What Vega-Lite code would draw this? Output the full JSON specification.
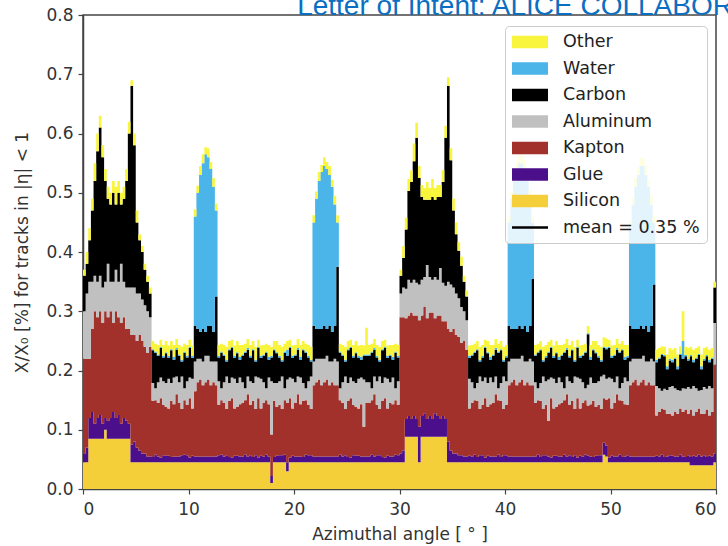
{
"$schema":"https://vega.github.io/schema/vega-lite/v6.json",
"width":633,"height":474,
"autosize":{"type":"none"},
"padding":{"left":83,"top":15,"right":12,"bottom":57},
"background":"white",
"datasets":{
"heading":[{"label":"Letter of Intent: ALICE COLLABORATION","phi":20.3,"level":0.8}],
"materials":[{"material":"Silicon","rank":1},{"material":"Glue","rank":2},{"material":"Kapton","rank":3},{"material":"Aluminum","rank":4},{"material":"Carbon","rank":5},{"material":"Water","rank":6},{"material":"Other","rank":7}],
"budget":[
{"phi":0,"Silicon":0.045,"Glue":0.015,"Kapton":0.16,"Aluminum":0.08,"Carbon":0.06,"Water":0,"Other":0.01},
{"phi":0.25,"Silicon":0.045,"Glue":0.025,"Kapton":0.15,"Aluminum":0.11,"Carbon":0.05,"Water":0,"Other":0.02},
{"phi":0.5,"Silicon":0.085,"Glue":0.035,"Kapton":0.10,"Aluminum":0.13,"Carbon":0.07,"Water":0,"Other":0.02},
{"phi":0.75,"Silicon":0.085,"Glue":0.045,"Kapton":0.14,"Aluminum":0.08,"Carbon":0.12,"Water":0,"Other":0.02},
{"phi":1.0,"Silicon":0.085,"Glue":0.025,"Kapton":0.19,"Aluminum":0.06,"Carbon":0.16,"Water":0,"Other":0.03},
{"phi":1.25,"Silicon":0.085,"Glue":0.035,"Kapton":0.17,"Aluminum":0.06,"Carbon":0.22,"Water":0,"Other":0.03},
{"phi":1.5,"Silicon":0.085,"Glue":0.04,"Kapton":0.175,"Aluminum":0.06,"Carbon":0.25,"Water":0,"Other":0.02},
{"phi":1.75,"Silicon":0.085,"Glue":0.025,"Kapton":0.17,"Aluminum":0.06,"Carbon":0.22,"Water":0,"Other":0.02},
{"phi":2.0,"Silicon":0.10,"Glue":0.02,"Kapton":0.18,"Aluminum":0.05,"Carbon":0.17,"Water":0,"Other":0.02},
{"phi":2.25,"Silicon":0.085,"Glue":0.03,"Kapton":0.175,"Aluminum":0.09,"Carbon":0.11,"Water":0,"Other":0.02},
{"phi":2.5,"Silicon":0.085,"Glue":0.035,"Kapton":0.18,"Aluminum":0.05,"Carbon":0.13,"Water":0,"Other":0.02},
{"phi":2.75,"Silicon":0.085,"Glue":0.045,"Kapton":0.15,"Aluminum":0.07,"Carbon":0.15,"Water":0,"Other":0.02},
{"phi":3.0,"Silicon":0.085,"Glue":0.035,"Kapton":0.18,"Aluminum":0.07,"Carbon":0.11,"Water":0,"Other":0.03},
{"phi":3.25,"Silicon":0.085,"Glue":0.04,"Kapton":0.165,"Aluminum":0.06,"Carbon":0.15,"Water":0,"Other":0.02},
{"phi":3.5,"Silicon":0.085,"Glue":0.025,"Kapton":0.17,"Aluminum":0.10,"Carbon":0.10,"Water":0,"Other":0.02},
{"phi":3.75,"Silicon":0.085,"Glue":0.035,"Kapton":0.17,"Aluminum":0.06,"Carbon":0.14,"Water":0,"Other":0.02},
{"phi":4.0,"Silicon":0.085,"Glue":0.03,"Kapton":0.155,"Aluminum":0.07,"Carbon":0.18,"Water":0,"Other":0.02},
{"phi":4.25,"Silicon":0.085,"Glue":0.025,"Kapton":0.16,"Aluminum":0.07,"Carbon":0.26,"Water":0,"Other":0.02},
{"phi":4.5,"Silicon":0.045,"Glue":0.03,"Kapton":0.185,"Aluminum":0.08,"Carbon":0.34,"Water":0,"Other":0.01},
{"phi":4.75,"Silicon":0.045,"Glue":0.035,"Kapton":0.18,"Aluminum":0.08,"Carbon":0.24,"Water":0,"Other":0.02},
{"phi":5.0,"Silicon":0.045,"Glue":0.025,"Kapton":0.18,"Aluminum":0.08,"Carbon":0.12,"Water":0,"Other":0.02},
{"phi":5.25,"Silicon":0.045,"Glue":0.02,"Kapton":0.195,"Aluminum":0.07,"Carbon":0.09,"Water":0,"Other":0.01},
{"phi":5.5,"Silicon":0.045,"Glue":0.015,"Kapton":0.19,"Aluminum":0.07,"Carbon":0.08,"Water":0,"Other":0.01},
{"phi":5.75,"Silicon":0.045,"Glue":0.015,"Kapton":0.18,"Aluminum":0.07,"Carbon":0.06,"Water":0,"Other":0.01},
{"phi":6.0,"Silicon":0.045,"Glue":0.01,"Kapton":0.175,"Aluminum":0.07,"Carbon":0.05,"Water":0,"Other":0.01},
{"phi":6.25,"Silicon":0.045,"Glue":0.01,"Kapton":0.185,"Aluminum":0.05,"Carbon":0.04,"Water":0,"Other":0.01},
{"phi":6.5,"Silicon":0.045,"Glue":0.009,"Kapton":0.095,"Aluminum":0.030,"Carbon":0.055,"Water":0.002,"Other":0.014},
{"phi":6.75,"Silicon":0.045,"Glue":0.013,"Kapton":0.092,"Aluminum":0.020,"Carbon":0.060,"Water":0.002,"Other":0.013},
{"phi":7.0,"Silicon":0.045,"Glue":0.010,"Kapton":0.090,"Aluminum":0.035,"Carbon":0.045,"Water":0.002,"Other":0.016},
{"phi":7.25,"Silicon":0.045,"Glue":0.008,"Kapton":0.100,"Aluminum":0.035,"Carbon":0.050,"Water":0.002,"Other":0.012},
{"phi":7.5,"Silicon":0.045,"Glue":0.012,"Kapton":0.085,"Aluminum":0.040,"Carbon":0.040,"Water":0.003,"Other":0.018},
{"phi":7.75,"Silicon":0.045,"Glue":0.011,"Kapton":0.083,"Aluminum":0.040,"Carbon":0.050,"Water":0.002,"Other":0.019},
{"phi":8.0,"Silicon":0.045,"Glue":0.011,"Kapton":0.080,"Aluminum":0.050,"Carbon":0.035,"Water":0.004,"Other":0.017},
{"phi":8.25,"Silicon":0.045,"Glue":0.009,"Kapton":0.095,"Aluminum":0.030,"Carbon":0.055,"Water":0.002,"Other":0.014},
{"phi":8.5,"Silicon":0.045,"Glue":0.010,"Kapton":0.088,"Aluminum":0.045,"Carbon":0.030,"Water":0.005,"Other":0.020},
{"phi":8.75,"Silicon":0.045,"Glue":0.010,"Kapton":0.105,"Aluminum":0.030,"Carbon":0.045,"Water":0.003,"Other":0.015},
{"phi":9.0,"Silicon":0.045,"Glue":0.010,"Kapton":0.090,"Aluminum":0.035,"Carbon":0.045,"Water":0.002,"Other":0.016},
{"phi":9.25,"Silicon":0.045,"Glue":0.012,"Kapton":0.078,"Aluminum":0.055,"Carbon":0.025,"Water":0.003,"Other":0.022},
{"phi":9.5,"Silicon":0.045,"Glue":0.013,"Kapton":0.092,"Aluminum":0.020,"Carbon":0.060,"Water":0.002,"Other":0.013},
{"phi":9.75,"Silicon":0.045,"Glue":0.012,"Kapton":0.085,"Aluminum":0.040,"Carbon":0.040,"Water":0.003,"Other":0.018},
{"phi":10.0,"Silicon":0.045,"Glue":0.008,"Kapton":0.100,"Aluminum":0.035,"Carbon":0.050,"Water":0.002,"Other":0.012},
{"phi":10.25,"Silicon":0.045,"Glue":0.011,"Kapton":0.080,"Aluminum":0.050,"Carbon":0.035,"Water":0.004,"Other":0.017},
{"phi":10.5,"Silicon":0.045,"Glue":0.01,"Kapton":0.11,"Aluminum":0.05,"Carbon":0.06,"Water":0.185,"Other":0.012},
{"phi":10.75,"Silicon":0.045,"Glue":0.01,"Kapton":0.125,"Aluminum":0.04,"Carbon":0.05,"Water":0.23,"Other":0.012},
{"phi":11.0,"Silicon":0.045,"Glue":0.01,"Kapton":0.13,"Aluminum":0.035,"Carbon":0.045,"Water":0.265,"Other":0.015},
{"phi":11.25,"Silicon":0.045,"Glue":0.01,"Kapton":0.12,"Aluminum":0.04,"Carbon":0.055,"Water":0.28,"Other":0.015},
{"phi":11.5,"Silicon":0.045,"Glue":0.01,"Kapton":0.125,"Aluminum":0.045,"Carbon":0.04,"Water":0.30,"Other":0.012},
{"phi":11.75,"Silicon":0.045,"Glue":0.01,"Kapton":0.13,"Aluminum":0.04,"Carbon":0.05,"Water":0.285,"Other":0.015},
{"phi":12.0,"Silicon":0.045,"Glue":0.01,"Kapton":0.12,"Aluminum":0.04,"Carbon":0.06,"Water":0.265,"Other":0.012},
{"phi":12.25,"Silicon":0.045,"Glue":0.01,"Kapton":0.125,"Aluminum":0.035,"Carbon":0.05,"Water":0.245,"Other":0.015},
{"phi":12.5,"Silicon":0.045,"Glue":0.01,"Kapton":0.12,"Aluminum":0.04,"Carbon":0.11,"Water":0.145,"Other":0.012},
{"phi":12.75,"Silicon":0.045,"Glue":0.012,"Kapton":0.085,"Aluminum":0.040,"Carbon":0.040,"Water":0.003,"Other":0.018},
{"phi":13.0,"Silicon":0.045,"Glue":0.013,"Kapton":0.092,"Aluminum":0.020,"Carbon":0.060,"Water":0.002,"Other":0.013},
{"phi":13.25,"Silicon":0.045,"Glue":0.010,"Kapton":0.090,"Aluminum":0.035,"Carbon":0.045,"Water":0.002,"Other":0.016},
{"phi":13.5,"Silicon":0.045,"Glue":0.012,"Kapton":0.078,"Aluminum":0.055,"Carbon":0.025,"Water":0.003,"Other":0.022},
{"phi":13.75,"Silicon":0.045,"Glue":0.009,"Kapton":0.095,"Aluminum":0.030,"Carbon":0.055,"Water":0.002,"Other":0.014},
{"phi":14.0,"Silicon":0.045,"Glue":0.008,"Kapton":0.100,"Aluminum":0.035,"Carbon":0.050,"Water":0.002,"Other":0.012},
{"phi":14.25,"Silicon":0.045,"Glue":0.011,"Kapton":0.080,"Aluminum":0.050,"Carbon":0.035,"Water":0.004,"Other":0.017},
{"phi":14.5,"Silicon":0.045,"Glue":0.011,"Kapton":0.083,"Aluminum":0.040,"Carbon":0.050,"Water":0.002,"Other":0.019},
{"phi":14.75,"Silicon":0.045,"Glue":0.010,"Kapton":0.088,"Aluminum":0.045,"Carbon":0.030,"Water":0.005,"Other":0.020},
{"phi":15.0,"Silicon":0.045,"Glue":0.010,"Kapton":0.090,"Aluminum":0.035,"Carbon":0.045,"Water":0.002,"Other":0.016},
{"phi":15.25,"Silicon":0.045,"Glue":0.013,"Kapton":0.092,"Aluminum":0.020,"Carbon":0.060,"Water":0.002,"Other":0.013},
{"phi":15.5,"Silicon":0.045,"Glue":0.010,"Kapton":0.105,"Aluminum":0.030,"Carbon":0.045,"Water":0.003,"Other":0.015},
{"phi":15.75,"Silicon":0.045,"Glue":0.012,"Kapton":0.085,"Aluminum":0.040,"Carbon":0.040,"Water":0.003,"Other":0.018},
{"phi":16.0,"Silicon":0.045,"Glue":0.009,"Kapton":0.095,"Aluminum":0.030,"Carbon":0.055,"Water":0.002,"Other":0.014},
{"phi":16.25,"Silicon":0.045,"Glue":0.012,"Kapton":0.078,"Aluminum":0.055,"Carbon":0.025,"Water":0.003,"Other":0.022},
{"phi":16.5,"Silicon":0.045,"Glue":0.008,"Kapton":0.100,"Aluminum":0.035,"Carbon":0.050,"Water":0.002,"Other":0.012},
{"phi":16.75,"Silicon":0.045,"Glue":0.011,"Kapton":0.080,"Aluminum":0.050,"Carbon":0.035,"Water":0.004,"Other":0.017},
{"phi":17.0,"Silicon":0.045,"Glue":0.010,"Kapton":0.090,"Aluminum":0.035,"Carbon":0.045,"Water":0.002,"Other":0.016},
{"phi":17.25,"Silicon":0.045,"Glue":0.013,"Kapton":0.092,"Aluminum":0.020,"Carbon":0.060,"Water":0.002,"Other":0.013},
{"phi":17.5,"Silicon":0.045,"Glue":0.010,"Kapton":0.088,"Aluminum":0.045,"Carbon":0.030,"Water":0.005,"Other":0.020},
{"phi":17.75,"Silicon":0.01,"Glue":0.012,"Kapton":0.07,"Aluminum":0.09,"Carbon":0.04,"Water":0.003,"Other":0.015},
{"phi":18.0,"Silicon":0.045,"Glue":0.009,"Kapton":0.095,"Aluminum":0.030,"Carbon":0.055,"Water":0.002,"Other":0.014},
{"phi":18.25,"Silicon":0.045,"Glue":0.011,"Kapton":0.083,"Aluminum":0.040,"Carbon":0.050,"Water":0.002,"Other":0.019},
{"phi":18.5,"Silicon":0.045,"Glue":0.012,"Kapton":0.085,"Aluminum":0.040,"Carbon":0.040,"Water":0.003,"Other":0.018},
{"phi":18.75,"Silicon":0.045,"Glue":0.012,"Kapton":0.078,"Aluminum":0.055,"Carbon":0.025,"Water":0.003,"Other":0.022},
{"phi":19.0,"Silicon":0.045,"Glue":0.013,"Kapton":0.092,"Aluminum":0.020,"Carbon":0.060,"Water":0.002,"Other":0.013},
{"phi":19.25,"Silicon":0.03,"Glue":0.015,"Kapton":0.10,"Aluminum":0.04,"Carbon":0.04,"Water":0.01,"Other":0.015},
{"phi":19.5,"Silicon":0.045,"Glue":0.008,"Kapton":0.100,"Aluminum":0.035,"Carbon":0.050,"Water":0.002,"Other":0.012},
{"phi":19.75,"Silicon":0.045,"Glue":0.011,"Kapton":0.080,"Aluminum":0.050,"Carbon":0.035,"Water":0.004,"Other":0.017},
{"phi":20.0,"Silicon":0.045,"Glue":0.010,"Kapton":0.090,"Aluminum":0.035,"Carbon":0.045,"Water":0.002,"Other":0.016},
{"phi":20.25,"Silicon":0.045,"Glue":0.010,"Kapton":0.105,"Aluminum":0.030,"Carbon":0.045,"Water":0.003,"Other":0.015},
{"phi":20.5,"Silicon":0.045,"Glue":0.010,"Kapton":0.088,"Aluminum":0.045,"Carbon":0.030,"Water":0.005,"Other":0.020},
{"phi":20.75,"Silicon":0.045,"Glue":0.009,"Kapton":0.095,"Aluminum":0.030,"Carbon":0.055,"Water":0.002,"Other":0.014},
{"phi":21.0,"Silicon":0.045,"Glue":0.013,"Kapton":0.092,"Aluminum":0.020,"Carbon":0.060,"Water":0.002,"Other":0.013},
{"phi":21.25,"Silicon":0.045,"Glue":0.012,"Kapton":0.085,"Aluminum":0.040,"Carbon":0.040,"Water":0.003,"Other":0.018},
{"phi":21.5,"Silicon":0.045,"Glue":0.012,"Kapton":0.078,"Aluminum":0.055,"Carbon":0.025,"Water":0.003,"Other":0.022},
{"phi":21.75,"Silicon":0.045,"Glue":0.01,"Kapton":0.12,"Aluminum":0.04,"Carbon":0.06,"Water":0.175,"Other":0.012},
{"phi":22.0,"Silicon":0.045,"Glue":0.01,"Kapton":0.125,"Aluminum":0.04,"Carbon":0.05,"Water":0.22,"Other":0.012},
{"phi":22.25,"Silicon":0.045,"Glue":0.01,"Kapton":0.13,"Aluminum":0.035,"Carbon":0.05,"Water":0.25,"Other":0.015},
{"phi":22.5,"Silicon":0.045,"Glue":0.01,"Kapton":0.12,"Aluminum":0.045,"Carbon":0.05,"Water":0.265,"Other":0.012},
{"phi":22.75,"Silicon":0.045,"Glue":0.01,"Kapton":0.125,"Aluminum":0.04,"Carbon":0.055,"Water":0.27,"Other":0.015},
{"phi":23.0,"Silicon":0.045,"Glue":0.01,"Kapton":0.13,"Aluminum":0.04,"Carbon":0.045,"Water":0.27,"Other":0.012},
{"phi":23.25,"Silicon":0.045,"Glue":0.01,"Kapton":0.12,"Aluminum":0.04,"Carbon":0.06,"Water":0.255,"Other":0.015},
{"phi":23.5,"Silicon":0.045,"Glue":0.01,"Kapton":0.125,"Aluminum":0.035,"Carbon":0.05,"Water":0.245,"Other":0.012},
{"phi":23.75,"Silicon":0.045,"Glue":0.01,"Kapton":0.12,"Aluminum":0.045,"Carbon":0.055,"Water":0.205,"Other":0.015},
{"phi":24.0,"Silicon":0.045,"Glue":0.01,"Kapton":0.12,"Aluminum":0.04,"Carbon":0.16,"Water":0.075,"Other":0.012},
{"phi":24.25,"Silicon":0.045,"Glue":0.013,"Kapton":0.092,"Aluminum":0.020,"Carbon":0.060,"Water":0.002,"Other":0.013},
{"phi":24.5,"Silicon":0.045,"Glue":0.010,"Kapton":0.090,"Aluminum":0.035,"Carbon":0.045,"Water":0.002,"Other":0.016},
{"phi":24.75,"Silicon":0.045,"Glue":0.012,"Kapton":0.078,"Aluminum":0.055,"Carbon":0.025,"Water":0.003,"Other":0.022},
{"phi":25.0,"Silicon":0.045,"Glue":0.009,"Kapton":0.095,"Aluminum":0.030,"Carbon":0.055,"Water":0.002,"Other":0.014},
{"phi":25.25,"Silicon":0.045,"Glue":0.008,"Kapton":0.100,"Aluminum":0.035,"Carbon":0.050,"Water":0.002,"Other":0.012},
{"phi":25.5,"Silicon":0.045,"Glue":0.012,"Kapton":0.085,"Aluminum":0.040,"Carbon":0.040,"Water":0.003,"Other":0.018},
{"phi":25.75,"Silicon":0.045,"Glue":0.011,"Kapton":0.083,"Aluminum":0.040,"Carbon":0.050,"Water":0.002,"Other":0.019},
{"phi":26.0,"Silicon":0.045,"Glue":0.011,"Kapton":0.080,"Aluminum":0.050,"Carbon":0.035,"Water":0.004,"Other":0.017},
{"phi":26.25,"Silicon":0.045,"Glue":0.010,"Kapton":0.088,"Aluminum":0.045,"Carbon":0.030,"Water":0.005,"Other":0.020},
{"phi":26.5,"Silicon":0.045,"Glue":0.01,"Kapton":0.05,"Aluminum":0.08,"Carbon":0.04,"Water":0.002,"Other":0.015},
{"phi":26.75,"Silicon":0.045,"Glue":0.010,"Kapton":0.090,"Aluminum":0.035,"Carbon":0.045,"Water":0.002,"Other":0.045},
{"phi":27.0,"Silicon":0.045,"Glue":0.010,"Kapton":0.090,"Aluminum":0.035,"Carbon":0.045,"Water":0.002,"Other":0.016},
{"phi":27.25,"Silicon":0.045,"Glue":0.013,"Kapton":0.092,"Aluminum":0.020,"Carbon":0.060,"Water":0.002,"Other":0.013},
{"phi":27.5,"Silicon":0.045,"Glue":0.010,"Kapton":0.105,"Aluminum":0.030,"Carbon":0.045,"Water":0.003,"Other":0.015},
{"phi":27.75,"Silicon":0.045,"Glue":0.012,"Kapton":0.085,"Aluminum":0.040,"Carbon":0.040,"Water":0.003,"Other":0.018},
{"phi":28.0,"Silicon":0.045,"Glue":0.012,"Kapton":0.078,"Aluminum":0.055,"Carbon":0.025,"Water":0.003,"Other":0.022},
{"phi":28.25,"Silicon":0.045,"Glue":0.009,"Kapton":0.095,"Aluminum":0.030,"Carbon":0.055,"Water":0.002,"Other":0.014},
{"phi":28.5,"Silicon":0.045,"Glue":0.008,"Kapton":0.100,"Aluminum":0.035,"Carbon":0.050,"Water":0.002,"Other":0.012},
{"phi":28.75,"Silicon":0.045,"Glue":0.011,"Kapton":0.080,"Aluminum":0.050,"Carbon":0.035,"Water":0.004,"Other":0.017},
{"phi":29.0,"Silicon":0.045,"Glue":0.010,"Kapton":0.090,"Aluminum":0.035,"Carbon":0.045,"Water":0.002,"Other":0.016},
{"phi":29.25,"Silicon":0.045,"Glue":0.010,"Kapton":0.088,"Aluminum":0.045,"Carbon":0.030,"Water":0.005,"Other":0.020},
{"phi":29.5,"Silicon":0.045,"Glue":0.013,"Kapton":0.092,"Aluminum":0.020,"Carbon":0.060,"Water":0.002,"Other":0.013},
{"phi":29.75,"Silicon":0.045,"Glue":0.012,"Kapton":0.085,"Aluminum":0.040,"Carbon":0.040,"Water":0.003,"Other":0.018},
{"phi":30.0,"Silicon":0.045,"Glue":0.015,"Kapton":0.23,"Aluminum":0.04,"Carbon":0.03,"Water":0,"Other":0.01},
{"phi":30.25,"Silicon":0.045,"Glue":0.02,"Kapton":0.225,"Aluminum":0.05,"Carbon":0.05,"Water":0,"Other":0.02},
{"phi":30.5,"Silicon":0.088,"Glue":0.03,"Kapton":0.17,"Aluminum":0.05,"Carbon":0.10,"Water":0,"Other":0.02},
{"phi":30.75,"Silicon":0.088,"Glue":0.035,"Kapton":0.17,"Aluminum":0.06,"Carbon":0.15,"Water":0,"Other":0.02},
{"phi":31.0,"Silicon":0.088,"Glue":0.03,"Kapton":0.18,"Aluminum":0.05,"Carbon":0.17,"Water":0,"Other":0.02},
{"phi":31.25,"Silicon":0.088,"Glue":0.035,"Kapton":0.17,"Aluminum":0.06,"Carbon":0.20,"Water":0,"Other":0.03},
{"phi":31.5,"Silicon":0.088,"Glue":0.03,"Kapton":0.175,"Aluminum":0.055,"Carbon":0.245,"Water":0,"Other":0.025},
{"phi":31.75,"Silicon":0.045,"Glue":0.06,"Kapton":0.18,"Aluminum":0.06,"Carbon":0.18,"Water":0,"Other":0.02},
{"phi":32.0,"Silicon":0.088,"Glue":0.035,"Kapton":0.17,"Aluminum":0.06,"Carbon":0.14,"Water":0,"Other":0.02},
{"phi":32.25,"Silicon":0.088,"Glue":0.04,"Kapton":0.18,"Aluminum":0.05,"Carbon":0.13,"Water":0,"Other":0.02},
{"phi":32.5,"Silicon":0.088,"Glue":0.03,"Kapton":0.17,"Aluminum":0.09,"Carbon":0.11,"Water":0,"Other":0.03},
{"phi":32.75,"Silicon":0.088,"Glue":0.035,"Kapton":0.175,"Aluminum":0.06,"Carbon":0.13,"Water":0,"Other":0.02},
{"phi":33.0,"Silicon":0.088,"Glue":0.03,"Kapton":0.18,"Aluminum":0.055,"Carbon":0.14,"Water":0,"Other":0.03},
{"phi":33.25,"Silicon":0.088,"Glue":0.04,"Kapton":0.16,"Aluminum":0.07,"Carbon":0.13,"Water":0,"Other":0.02},
{"phi":33.5,"Silicon":0.088,"Glue":0.035,"Kapton":0.17,"Aluminum":0.06,"Carbon":0.14,"Water":0,"Other":0.02},
{"phi":33.75,"Silicon":0.088,"Glue":0.03,"Kapton":0.175,"Aluminum":0.08,"Carbon":0.12,"Water":0,"Other":0.02},
{"phi":34.0,"Silicon":0.088,"Glue":0.035,"Kapton":0.16,"Aluminum":0.065,"Carbon":0.17,"Water":0,"Other":0.02},
{"phi":34.25,"Silicon":0.088,"Glue":0.03,"Kapton":0.165,"Aluminum":0.06,"Carbon":0.25,"Water":0,"Other":0.02},
{"phi":34.5,"Silicon":0.045,"Glue":0.035,"Kapton":0.19,"Aluminum":0.08,"Carbon":0.33,"Water":0,"Other":0.015},
{"phi":34.75,"Silicon":0.045,"Glue":0.02,"Kapton":0.2,"Aluminum":0.08,"Carbon":0.21,"Water":0,"Other":0.02},
{"phi":35.0,"Silicon":0.045,"Glue":0.015,"Kapton":0.21,"Aluminum":0.07,"Carbon":0.13,"Water":0,"Other":0.02},
{"phi":35.25,"Silicon":0.045,"Glue":0.015,"Kapton":0.2,"Aluminum":0.07,"Carbon":0.10,"Water":0,"Other":0.02},
{"phi":35.5,"Silicon":0.045,"Glue":0.012,"Kapton":0.2,"Aluminum":0.065,"Carbon":0.08,"Water":0,"Other":0.015},
{"phi":35.75,"Silicon":0.045,"Glue":0.012,"Kapton":0.19,"Aluminum":0.06,"Carbon":0.07,"Water":0,"Other":0.015},
{"phi":36.0,"Silicon":0.045,"Glue":0.01,"Kapton":0.195,"Aluminum":0.05,"Carbon":0.05,"Water":0,"Other":0.01},
{"phi":36.25,"Silicon":0.045,"Glue":0.01,"Kapton":0.18,"Aluminum":0.05,"Carbon":0.04,"Water":0,"Other":0.01},
{"phi":36.5,"Silicon":0.045,"Glue":0.011,"Kapton":0.080,"Aluminum":0.050,"Carbon":0.035,"Water":0.004,"Other":0.017},
{"phi":36.75,"Silicon":0.045,"Glue":0.010,"Kapton":0.090,"Aluminum":0.035,"Carbon":0.045,"Water":0.002,"Other":0.016},
{"phi":37.0,"Silicon":0.045,"Glue":0.013,"Kapton":0.092,"Aluminum":0.020,"Carbon":0.060,"Water":0.002,"Other":0.013},
{"phi":37.25,"Silicon":0.045,"Glue":0.009,"Kapton":0.095,"Aluminum":0.030,"Carbon":0.055,"Water":0.002,"Other":0.014},
{"phi":37.5,"Silicon":0.045,"Glue":0.012,"Kapton":0.078,"Aluminum":0.055,"Carbon":0.025,"Water":0.003,"Other":0.022},
{"phi":37.75,"Silicon":0.045,"Glue":0.012,"Kapton":0.085,"Aluminum":0.040,"Carbon":0.040,"Water":0.003,"Other":0.018},
{"phi":38.0,"Silicon":0.045,"Glue":0.008,"Kapton":0.100,"Aluminum":0.035,"Carbon":0.050,"Water":0.002,"Other":0.012},
{"phi":38.25,"Silicon":0.045,"Glue":0.011,"Kapton":0.083,"Aluminum":0.040,"Carbon":0.050,"Water":0.002,"Other":0.019},
{"phi":38.5,"Silicon":0.045,"Glue":0.010,"Kapton":0.088,"Aluminum":0.045,"Carbon":0.030,"Water":0.005,"Other":0.020},
{"phi":38.75,"Silicon":0.045,"Glue":0.010,"Kapton":0.090,"Aluminum":0.035,"Carbon":0.045,"Water":0.002,"Other":0.016},
{"phi":39.0,"Silicon":0.045,"Glue":0.010,"Kapton":0.105,"Aluminum":0.030,"Carbon":0.045,"Water":0.003,"Other":0.015},
{"phi":39.25,"Silicon":0.045,"Glue":0.013,"Kapton":0.092,"Aluminum":0.020,"Carbon":0.060,"Water":0.002,"Other":0.013},
{"phi":39.5,"Silicon":0.045,"Glue":0.009,"Kapton":0.095,"Aluminum":0.030,"Carbon":0.055,"Water":0.002,"Other":0.014},
{"phi":39.75,"Silicon":0.045,"Glue":0.012,"Kapton":0.078,"Aluminum":0.055,"Carbon":0.025,"Water":0.003,"Other":0.022},
{"phi":40.0,"Silicon":0.045,"Glue":0.012,"Kapton":0.085,"Aluminum":0.040,"Carbon":0.040,"Water":0.003,"Other":0.018},
{"phi":40.25,"Silicon":0.045,"Glue":0.01,"Kapton":0.12,"Aluminum":0.04,"Carbon":0.06,"Water":0.175,"Other":0.012},
{"phi":40.5,"Silicon":0.045,"Glue":0.01,"Kapton":0.125,"Aluminum":0.04,"Carbon":0.05,"Water":0.22,"Other":0.012},
{"phi":40.75,"Silicon":0.045,"Glue":0.01,"Kapton":0.13,"Aluminum":0.035,"Carbon":0.05,"Water":0.25,"Other":0.015},
{"phi":41.0,"Silicon":0.045,"Glue":0.01,"Kapton":0.12,"Aluminum":0.045,"Carbon":0.05,"Water":0.27,"Other":0.012},
{"phi":41.25,"Silicon":0.045,"Glue":0.01,"Kapton":0.125,"Aluminum":0.04,"Carbon":0.055,"Water":0.275,"Other":0.015},
{"phi":41.5,"Silicon":0.045,"Glue":0.01,"Kapton":0.13,"Aluminum":0.04,"Carbon":0.045,"Water":0.28,"Other":0.012},
{"phi":41.75,"Silicon":0.045,"Glue":0.01,"Kapton":0.12,"Aluminum":0.04,"Carbon":0.06,"Water":0.265,"Other":0.015},
{"phi":42.0,"Silicon":0.045,"Glue":0.01,"Kapton":0.125,"Aluminum":0.035,"Carbon":0.05,"Water":0.255,"Other":0.012},
{"phi":42.25,"Silicon":0.045,"Glue":0.01,"Kapton":0.12,"Aluminum":0.045,"Carbon":0.055,"Water":0.215,"Other":0.015},
{"phi":42.5,"Silicon":0.045,"Glue":0.01,"Kapton":0.12,"Aluminum":0.04,"Carbon":0.14,"Water":0.095,"Other":0.012},
{"phi":42.75,"Silicon":0.045,"Glue":0.010,"Kapton":0.090,"Aluminum":0.035,"Carbon":0.045,"Water":0.002,"Other":0.016},
{"phi":43.0,"Silicon":0.045,"Glue":0.013,"Kapton":0.092,"Aluminum":0.020,"Carbon":0.060,"Water":0.002,"Other":0.013},
{"phi":43.25,"Silicon":0.045,"Glue":0.009,"Kapton":0.095,"Aluminum":0.030,"Carbon":0.055,"Water":0.002,"Other":0.014},
{"phi":43.5,"Silicon":0.045,"Glue":0.012,"Kapton":0.078,"Aluminum":0.055,"Carbon":0.025,"Water":0.003,"Other":0.022},
{"phi":43.75,"Silicon":0.045,"Glue":0.012,"Kapton":0.085,"Aluminum":0.040,"Carbon":0.040,"Water":0.003,"Other":0.018},
{"phi":44.0,"Silicon":0.045,"Glue":0.01,"Kapton":0.06,"Aluminum":0.07,"Carbon":0.045,"Water":0.002,"Other":0.016},
{"phi":44.25,"Silicon":0.045,"Glue":0.008,"Kapton":0.100,"Aluminum":0.035,"Carbon":0.050,"Water":0.002,"Other":0.012},
{"phi":44.5,"Silicon":0.045,"Glue":0.011,"Kapton":0.080,"Aluminum":0.050,"Carbon":0.035,"Water":0.004,"Other":0.017},
{"phi":44.75,"Silicon":0.045,"Glue":0.011,"Kapton":0.083,"Aluminum":0.040,"Carbon":0.050,"Water":0.002,"Other":0.019},
{"phi":45.0,"Silicon":0.045,"Glue":0.010,"Kapton":0.088,"Aluminum":0.045,"Carbon":0.030,"Water":0.005,"Other":0.020},
{"phi":45.25,"Silicon":0.045,"Glue":0.010,"Kapton":0.090,"Aluminum":0.035,"Carbon":0.045,"Water":0.002,"Other":0.016},
{"phi":45.5,"Silicon":0.045,"Glue":0.013,"Kapton":0.092,"Aluminum":0.020,"Carbon":0.060,"Water":0.002,"Other":0.013},
{"phi":45.75,"Silicon":0.045,"Glue":0.010,"Kapton":0.105,"Aluminum":0.030,"Carbon":0.045,"Water":0.003,"Other":0.015},
{"phi":46.0,"Silicon":0.045,"Glue":0.012,"Kapton":0.085,"Aluminum":0.040,"Carbon":0.040,"Water":0.003,"Other":0.018},
{"phi":46.25,"Silicon":0.045,"Glue":0.009,"Kapton":0.095,"Aluminum":0.030,"Carbon":0.055,"Water":0.002,"Other":0.014},
{"phi":46.5,"Silicon":0.045,"Glue":0.012,"Kapton":0.078,"Aluminum":0.055,"Carbon":0.025,"Water":0.003,"Other":0.022},
{"phi":46.75,"Silicon":0.045,"Glue":0.008,"Kapton":0.100,"Aluminum":0.035,"Carbon":0.050,"Water":0.002,"Other":0.012},
{"phi":47.0,"Silicon":0.045,"Glue":0.011,"Kapton":0.080,"Aluminum":0.050,"Carbon":0.035,"Water":0.004,"Other":0.017},
{"phi":47.25,"Silicon":0.045,"Glue":0.010,"Kapton":0.090,"Aluminum":0.035,"Carbon":0.045,"Water":0.002,"Other":0.016},
{"phi":47.5,"Silicon":0.045,"Glue":0.013,"Kapton":0.092,"Aluminum":0.020,"Carbon":0.060,"Water":0.002,"Other":0.013},
{"phi":47.75,"Silicon":0.045,"Glue":0.011,"Kapton":0.085,"Aluminum":0.035,"Carbon":0.085,"Water":0.002,"Other":0.012},
{"phi":48.0,"Silicon":0.045,"Glue":0.010,"Kapton":0.088,"Aluminum":0.045,"Carbon":0.030,"Water":0.005,"Other":0.020},
{"phi":48.25,"Silicon":0.045,"Glue":0.009,"Kapton":0.095,"Aluminum":0.030,"Carbon":0.055,"Water":0.002,"Other":0.014},
{"phi":48.5,"Silicon":0.045,"Glue":0.011,"Kapton":0.083,"Aluminum":0.040,"Carbon":0.050,"Water":0.002,"Other":0.019},
{"phi":48.75,"Silicon":0.045,"Glue":0.012,"Kapton":0.085,"Aluminum":0.040,"Carbon":0.040,"Water":0.003,"Other":0.018},
{"phi":49.0,"Silicon":0.045,"Glue":0.012,"Kapton":0.078,"Aluminum":0.055,"Carbon":0.025,"Water":0.003,"Other":0.022},
{"phi":49.25,"Silicon":0.058,"Glue":0.02,"Kapton":0.075,"Aluminum":0.04,"Carbon":0.045,"Water":0.002,"Other":0.016},
{"phi":49.5,"Silicon":0.055,"Glue":0.018,"Kapton":0.078,"Aluminum":0.035,"Carbon":0.05,"Water":0.003,"Other":0.015},
{"phi":49.75,"Silicon":0.045,"Glue":0.008,"Kapton":0.100,"Aluminum":0.035,"Carbon":0.050,"Water":0.002,"Other":0.012},
{"phi":50.0,"Silicon":0.045,"Glue":0.011,"Kapton":0.080,"Aluminum":0.050,"Carbon":0.035,"Water":0.004,"Other":0.017},
{"phi":50.25,"Silicon":0.045,"Glue":0.010,"Kapton":0.090,"Aluminum":0.035,"Carbon":0.045,"Water":0.002,"Other":0.016},
{"phi":50.5,"Silicon":0.045,"Glue":0.010,"Kapton":0.105,"Aluminum":0.030,"Carbon":0.045,"Water":0.003,"Other":0.015},
{"phi":50.75,"Silicon":0.045,"Glue":0.013,"Kapton":0.092,"Aluminum":0.020,"Carbon":0.060,"Water":0.002,"Other":0.013},
{"phi":51.0,"Silicon":0.045,"Glue":0.009,"Kapton":0.095,"Aluminum":0.030,"Carbon":0.055,"Water":0.002,"Other":0.014},
{"phi":51.25,"Silicon":0.045,"Glue":0.010,"Kapton":0.088,"Aluminum":0.045,"Carbon":0.030,"Water":0.005,"Other":0.020},
{"phi":51.5,"Silicon":0.045,"Glue":0.012,"Kapton":0.085,"Aluminum":0.040,"Carbon":0.040,"Water":0.003,"Other":0.018},
{"phi":51.75,"Silicon":0.045,"Glue":0.01,"Kapton":0.12,"Aluminum":0.04,"Carbon":0.06,"Water":0.165,"Other":0.012},
{"phi":52.0,"Silicon":0.045,"Glue":0.01,"Kapton":0.125,"Aluminum":0.04,"Carbon":0.05,"Water":0.21,"Other":0.012},
{"phi":52.25,"Silicon":0.045,"Glue":0.01,"Kapton":0.13,"Aluminum":0.035,"Carbon":0.05,"Water":0.24,"Other":0.015},
{"phi":52.5,"Silicon":0.045,"Glue":0.01,"Kapton":0.12,"Aluminum":0.045,"Carbon":0.05,"Water":0.26,"Other":0.012},
{"phi":52.75,"Silicon":0.045,"Glue":0.01,"Kapton":0.125,"Aluminum":0.04,"Carbon":0.055,"Water":0.27,"Other":0.015},
{"phi":53.0,"Silicon":0.045,"Glue":0.01,"Kapton":0.13,"Aluminum":0.04,"Carbon":0.045,"Water":0.275,"Other":0.012},
{"phi":53.25,"Silicon":0.045,"Glue":0.01,"Kapton":0.12,"Aluminum":0.04,"Carbon":0.06,"Water":0.255,"Other":0.015},
{"phi":53.5,"Silicon":0.045,"Glue":0.01,"Kapton":0.125,"Aluminum":0.035,"Carbon":0.05,"Water":0.245,"Other":0.012},
{"phi":53.75,"Silicon":0.045,"Glue":0.01,"Kapton":0.12,"Aluminum":0.045,"Carbon":0.055,"Water":0.205,"Other":0.015},
{"phi":54.0,"Silicon":0.045,"Glue":0.01,"Kapton":0.12,"Aluminum":0.04,"Carbon":0.13,"Water":0.105,"Other":0.012},
{"phi":54.25,"Silicon":0.045,"Glue":0.011,"Kapton":0.068,"Aluminum":0.050,"Carbon":0.040,"Water":0.004,"Other":0.017},
{"phi":54.5,"Silicon":0.045,"Glue":0.010,"Kapton":0.075,"Aluminum":0.040,"Carbon":0.050,"Water":0.002,"Other":0.016},
{"phi":54.75,"Silicon":0.045,"Glue":0.013,"Kapton":0.078,"Aluminum":0.030,"Carbon":0.060,"Water":0.002,"Other":0.013},
{"phi":55.0,"Silicon":0.045,"Glue":0.009,"Kapton":0.080,"Aluminum":0.035,"Carbon":0.055,"Water":0.002,"Other":0.014},
{"phi":55.25,"Silicon":0.045,"Glue":0.010,"Kapton":0.072,"Aluminum":0.040,"Carbon":0.035,"Water":0.005,"Other":0.020},
{"phi":55.5,"Silicon":0.045,"Glue":0.012,"Kapton":0.070,"Aluminum":0.045,"Carbon":0.045,"Water":0.003,"Other":0.018},
{"phi":55.75,"Silicon":0.045,"Glue":0.011,"Kapton":0.068,"Aluminum":0.050,"Carbon":0.040,"Water":0.004,"Other":0.017},
{"phi":56.0,"Silicon":0.045,"Glue":0.010,"Kapton":0.075,"Aluminum":0.040,"Carbon":0.050,"Water":0.002,"Other":0.016},
{"phi":56.25,"Silicon":0.045,"Glue":0.010,"Kapton":0.072,"Aluminum":0.040,"Carbon":0.035,"Water":0.005,"Other":0.020},
{"phi":56.5,"Silicon":0.045,"Glue":0.013,"Kapton":0.078,"Aluminum":0.030,"Carbon":0.060,"Water":0.002,"Other":0.013},
{"phi":56.75,"Silicon":0.045,"Glue":0.010,"Kapton":0.075,"Aluminum":0.040,"Carbon":0.050,"Water":0.03,"Other":0.05},
{"phi":57.0,"Silicon":0.045,"Glue":0.009,"Kapton":0.080,"Aluminum":0.035,"Carbon":0.055,"Water":0.002,"Other":0.014},
{"phi":57.25,"Silicon":0.045,"Glue":0.012,"Kapton":0.070,"Aluminum":0.045,"Carbon":0.045,"Water":0.003,"Other":0.018},
{"phi":57.5,"Silicon":0.04,"Glue":0.014,"Kapton":0.080,"Aluminum":0.035,"Carbon":0.055,"Water":0.002,"Other":0.014},
{"phi":57.75,"Silicon":0.04,"Glue":0.016,"Kapton":0.068,"Aluminum":0.050,"Carbon":0.040,"Water":0.004,"Other":0.017},
{"phi":58.0,"Silicon":0.04,"Glue":0.015,"Kapton":0.075,"Aluminum":0.040,"Carbon":0.050,"Water":0.002,"Other":0.016},
{"phi":58.25,"Silicon":0.04,"Glue":0.018,"Kapton":0.078,"Aluminum":0.030,"Carbon":0.060,"Water":0.002,"Other":0.013},
{"phi":58.5,"Silicon":0.04,"Glue":0.015,"Kapton":0.072,"Aluminum":0.040,"Carbon":0.035,"Water":0.005,"Other":0.020},
{"phi":58.75,"Silicon":0.04,"Glue":0.017,"Kapton":0.070,"Aluminum":0.045,"Carbon":0.045,"Water":0.003,"Other":0.018},
{"phi":59.0,"Silicon":0.04,"Glue":0.014,"Kapton":0.080,"Aluminum":0.035,"Carbon":0.055,"Water":0.002,"Other":0.014},
{"phi":59.25,"Silicon":0.04,"Glue":0.016,"Kapton":0.068,"Aluminum":0.050,"Carbon":0.040,"Water":0.004,"Other":0.017},
{"phi":59.5,"Silicon":0.04,"Glue":0.015,"Kapton":0.075,"Aluminum":0.040,"Carbon":0.050,"Water":0.002,"Other":0.016},
{"phi":59.75,"Silicon":0.045,"Glue":0.015,"Kapton":0.15,"Aluminum":0.07,"Carbon":0.06,"Water":0,"Other":0.01},
{"phi":60,"Silicon":0.045,"Glue":0.015,"Kapton":0.15,"Aluminum":0.07,"Carbon":0.06,"Water":0,"Other":0.01}
]},
"layer":[
{"data":{"name":"budget"},
 "transform":[
  {"fold":["Silicon","Glue","Kapton","Aluminum","Carbon","Water","Other"],"as":["material","value"]},
  {"lookup":"material","from":{"data":{"name":"materials"},"key":"material","fields":["rank"]}}
 ],
 "mark":{"type":"area","interpolate":"step-after","opacity":1,"strokeWidth":0},
 "encoding":{
  "x":{"field":"phi","type":"quantitative","scale":{"domain":[0,60],"nice":false},
   "axis":{"values":[0,10,20,30,40,50,60],"title":"Azimuthal angle [ ° ]","titlePadding":9,"labelPadding":7}},
  "y":{"field":"value","type":"quantitative","stack":"zero","scale":{"domain":[0,0.8],"nice":false},
   "axis":{"values":[0,0.1,0.2,0.3,0.4,0.5,0.6,0.7,0.8],"format":".1f","title":"X/X₀ [%] for tracks in |η| < 1","labelPadding":5,"titlePadding":14}},
  "color":{"field":"material","type":"nominal",
   "scale":{"domain":["Other","Water","Carbon","Aluminum","Kapton","Glue","Silicon","mean = 0.35 %"],
            "range":["#f8f53c","#4bb4e9","#000000","#c0c0c0","#a3312b","#4b0f8c","#f5cf3a","#000000"]},
   "legend":{"orient":"none","legendX":422,"legendY":11,"title":null,
     "labelFontSize":17.5,"labelFont":"DejaVu Sans","labelColor":"#222",
     "symbolType":"M-1,-0.7H3V0.7H-1Z",
     "symbolSize":324,"rowPadding":8.5,"padding":7,"labelOffset":33,
     "symbolStrokeWidth":0,"symbolOpacity":1,
     "fillColor":"rgba(255,255,255,0.85)","strokeColor":"#cccccc","cornerRadius":4,
     "encode":{"symbols":{
       "enter":{"shape":{"signal":"datum.value === 'mean = 0.35 %' ? 'M-1,-0.14H3V0.14H-1Z' : 'M-1,-0.7H3V0.7H-1Z'"}},
       "update":{"shape":{"signal":"datum.value === 'mean = 0.35 %' ? 'M-1,-0.14H3V0.14H-1Z' : 'M-1,-0.7H3V0.7H-1Z'"}}}}}},
  "order":{"field":"rank","type":"quantitative"}
 }},
{"mark":{"type":"rule","strokeWidth":2},
 "encoding":{"y":{"datum":0.35},"color":{"datum":"mean = 0.35 %"}}},
{"data":{"name":"heading"},
 "mark":{"type":"text","align":"left","baseline":"alphabetic","fontSize":28,"font":"Liberation Sans","color":"#0a6fc2","clip":false},
 "encoding":{"text":{"field":"label"},"x":{"field":"phi","type":"quantitative"},"y":{"field":"level","type":"quantitative"}}}
],
"config":{
 "font":"DejaVu Sans",
 "view":{"stroke":"#444444","strokeWidth":1.5},
 "axis":{"labelFontSize":17,"titleFontSize":17,"labelFont":"DejaVu Sans","titleFont":"DejaVu Sans","titleFontWeight":"normal","labelColor":"#333333","titleColor":"#333333","tickColor":"#444444","domainColor":"#444444","domainWidth":1.5,"tickSize":5,"tickWidth":1.2,"grid":false}
}
}
